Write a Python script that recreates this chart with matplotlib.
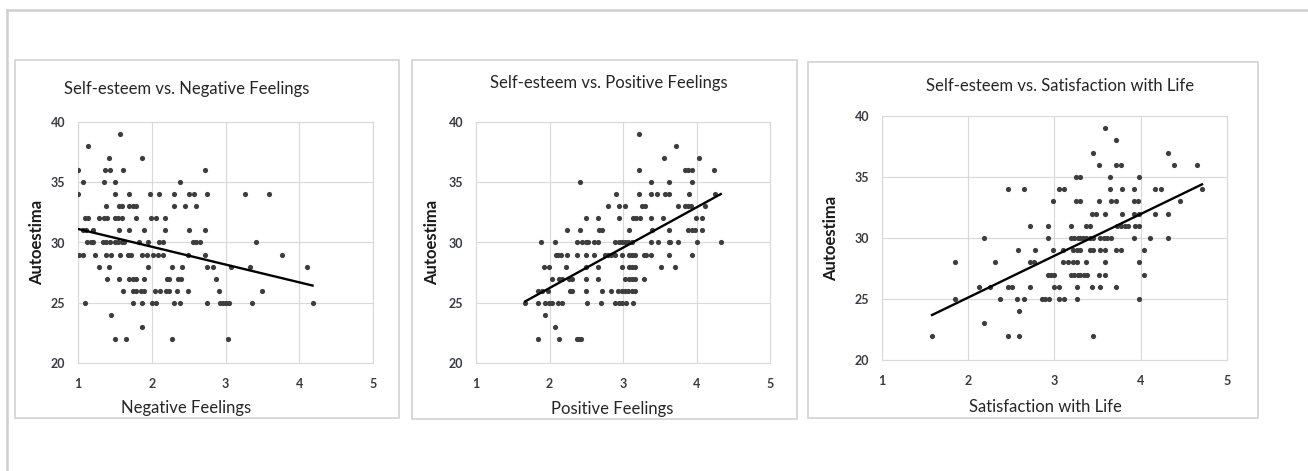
import numpy as np
import matplotlib
matplotlib.use("Agg")
import matplotlib.pyplot as plt
from matplotlib.patches import Rectangle

# ---------------- data ----------------
titles = ["Self-esteem vs. Negative Feelings",
          "Self-esteem vs. Positive Feelings",
          "Self-esteem vs. Satisfaction with Life"]
xlabels = ["Negative Feelings", "Positive Feelings", "Satisfaction with Life"]
ylabel = "Autoestima"
xticks = [1, 2, 3, 4, 5]
yticks = [20, 25, 30, 35, 40]

neg_x = [1.57,
         1.14,
         1.42, 1.87,
         1.00, 1.36, 1.43, 1.61, 2.72,
         1.07, 1.35, 1.50, 2.38,
         1.00, 1.50, 1.69, 1.97, 2.10, 2.30, 2.51, 2.57, 2.75, 3.26, 3.59,
         1.38, 1.56, 1.60, 1.69, 1.74, 1.79, 2.30, 2.45, 2.60,
         1.09, 1.14, 1.29, 1.35, 1.39, 1.50, 1.54, 1.59, 1.79, 1.99, 2.06, 2.18,
         1.07, 1.11, 1.20, 1.56, 1.69, 1.89, 2.18, 2.51, 2.72,
         1.12, 1.17, 1.21, 1.34, 1.38, 1.43, 1.50, 1.54, 1.59, 1.63, 1.83, 1.95, 2.10, 2.15, 2.56, 2.60, 2.65, 3.41,
         1.02, 1.07, 1.23, 1.38, 1.45, 1.57, 1.68, 1.72, 1.87, 1.93, 2.02, 2.08, 2.15, 2.49, 2.72, 3.76,
         1.29, 1.42, 1.95, 2.27, 2.41, 2.75, 2.83, 3.08, 3.33, 4.10,
         1.39, 1.56, 1.69, 1.74, 1.78, 1.90, 2.20, 2.24, 2.36, 2.40, 2.87,
         1.61, 1.75, 1.79, 1.86, 1.89, 2.05, 2.11, 2.19, 2.24, 2.34, 2.49, 2.91, 3.49,
         1.10, 1.75, 1.87, 2.01, 2.06, 2.30, 2.38, 2.75, 2.92, 2.97, 3.01, 3.05, 3.36, 4.18,
         1.45,
         1.87,
         1.50, 1.65, 2.27, 3.03]
neg_y = [39,
         38,
         37, 37,
         36, 36, 36, 36, 36,
         35, 35, 35, 35,
         34, 34, 34, 34, 34, 34, 34, 34, 34, 34, 34,
         33, 33, 33, 33, 33, 33, 33, 33, 33,
         32, 32, 32, 32, 32, 32, 32, 32, 32, 32, 32, 32,
         31, 31, 31, 31, 31, 31, 31, 31, 31,
         30, 30, 30, 30, 30, 30, 30, 30, 30, 30, 30, 30, 30, 30, 30, 30, 30, 30,
         29, 29, 29, 29, 29, 29, 29, 29, 29, 29, 29, 29, 29, 29, 29, 29,
         28, 28, 28, 28, 28, 28, 28, 28, 28, 28,
         27, 27, 27, 27, 27, 27, 27, 27, 27, 27, 27,
         26, 26, 26, 26, 26, 26, 26, 26, 26, 26, 26, 26, 26,
         25, 25, 25, 25, 25, 25, 25, 25, 25, 25, 25, 25, 25, 25,
         24,
         23,
         22, 22, 22, 22]

pos_x = [3.22,
         3.72,
         3.56, 4.03,
         3.22, 3.84, 3.89, 3.94, 4.24,
         2.42, 3.38, 3.62, 3.94,
         2.90, 3.22, 3.38, 3.46, 3.57, 3.62, 3.90, 4.25,
         2.79, 2.94, 3.03, 3.26, 3.30, 3.75, 3.85, 3.89, 3.93, 4.12,
         2.49, 2.66, 2.94, 3.13, 3.18, 3.23, 3.38, 3.55, 3.99, 4.08,
         2.24, 2.42, 2.67, 2.71, 3.08, 3.39, 3.63, 3.89, 3.94, 3.98, 4.07,
         1.89, 2.08, 2.37, 2.44, 2.49, 2.52, 2.61, 2.66, 2.89, 2.94, 2.98, 3.03, 3.07, 3.12, 3.38, 3.47, 3.62, 3.64, 3.75, 4.00, 4.33,
         2.09, 2.12, 2.15, 2.24, 2.37, 2.49, 2.61, 2.75, 2.79, 2.83, 2.89, 2.98, 3.08, 3.12, 3.16, 3.28, 3.31, 3.38, 3.62, 3.94,
         1.93, 1.99, 2.23, 2.49, 2.66, 2.98, 3.08, 3.12, 3.17, 3.52, 3.71,
         2.03, 2.13, 2.17, 2.26, 2.30, 2.49, 2.66, 3.03, 3.08, 3.12, 3.16, 3.28,
         1.84, 1.90, 1.98, 2.28, 2.31, 2.49, 2.71, 2.84, 2.93, 2.98, 3.03, 3.07, 3.12, 3.16,
         1.67, 1.85, 1.94, 1.99, 2.03, 2.12, 2.17, 2.51, 2.70, 2.89, 2.94, 2.98, 3.04, 3.13,
         1.94,
         2.08,
         1.85, 2.13, 2.37, 2.40, 2.43]
pos_y = [39,
         38,
         37, 37,
         36, 36, 36, 36, 36,
         35, 35, 35, 35,
         34, 34, 34, 34, 34, 34, 34, 34,
         33, 33, 33, 33, 33, 33, 33, 33, 33, 33,
         32, 32, 32, 32, 32, 32, 32, 32, 32, 32,
         31, 31, 31, 31, 31, 31, 31, 31, 31, 31, 31,
         30, 30, 30, 30, 30, 30, 30, 30, 30, 30, 30, 30, 30, 30, 30, 30, 30, 30, 30, 30, 30,
         29, 29, 29, 29, 29, 29, 29, 29, 29, 29, 29, 29, 29, 29, 29, 29, 29, 29, 29, 29,
         28, 28, 28, 28, 28, 28, 28, 28, 28, 28, 28,
         27, 27, 27, 27, 27, 27, 27, 27, 27, 27, 27, 27,
         26, 26, 26, 26, 26, 26, 26, 26, 26, 26, 26, 26, 26, 26,
         25, 25, 25, 25, 25, 25, 25, 25, 25, 25, 25, 25, 25, 25,
         24,
         23,
         22, 22, 22, 22, 22]

sat_x = [3.58,
         3.71,
         3.45, 4.32,
         3.52, 3.71, 3.77, 4.38, 4.65,
         3.25, 3.30, 3.64, 3.98,
         2.46, 2.65, 3.05, 3.11, 3.64, 3.78, 3.92, 4.16, 4.23, 4.71,
         2.98, 3.25, 3.30, 3.52, 3.65, 3.71, 3.92, 3.97, 4.45,
         3.44, 3.48, 3.59, 3.78, 3.92, 3.98, 4.16, 4.32,
         2.72, 2.92, 3.19, 3.37, 3.41, 3.72, 3.77, 3.82, 3.85, 3.93, 3.98,
         2.18, 2.92, 3.19, 3.23, 3.27, 3.30, 3.33, 3.37, 3.41, 3.45, 3.53, 3.57, 3.61, 3.65, 3.92, 4.11, 4.32,
         2.58, 2.77, 2.98, 3.10, 3.22, 3.26, 3.30, 3.41, 3.45, 3.53, 3.58, 3.71, 3.77, 4.04,
         1.85, 2.31, 2.72, 2.76, 3.10, 3.16, 3.22, 3.26, 3.37, 3.58, 3.98,
         2.92, 2.96, 2.99, 3.19, 3.23, 3.27, 3.30, 3.34, 3.38, 3.52, 3.58, 4.04,
         2.12, 2.25, 2.46, 2.51, 2.72, 2.99, 3.05, 3.26, 3.44, 3.53, 3.71,
         1.85, 2.37, 2.57, 2.65, 2.85, 2.89, 2.94, 3.05, 3.11, 3.26, 3.98,
         2.59,
         2.18,
         1.58, 2.46, 2.59, 3.45]
sat_y = [39,
         38,
         37, 37,
         36, 36, 36, 36, 36,
         35, 35, 35, 35,
         34, 34, 34, 34, 34, 34, 34, 34, 34, 34,
         33, 33, 33, 33, 33, 33, 33, 33, 33,
         32, 32, 32, 32, 32, 32, 32, 32,
         31, 31, 31, 31, 31, 31, 31, 31, 31, 31, 31,
         30, 30, 30, 30, 30, 30, 30, 30, 30, 30, 30, 30, 30, 30, 30, 30, 30,
         29, 29, 29, 29, 29, 29, 29, 29, 29, 29, 29, 29, 29, 29,
         28, 28, 28, 28, 28, 28, 28, 28, 28, 28, 28,
         27, 27, 27, 27, 27, 27, 27, 27, 27, 27, 27, 27,
         26, 26, 26, 26, 26, 26, 26, 26, 26, 26, 26,
         25, 25, 25, 25, 25, 25, 25, 25, 25, 25, 25,
         24,
         23,
         22, 22, 22, 22]

# ---------------- styling / layout ----------------
W, H = 1308, 471
FONT = ["Lato", "DejaVu Sans"]
plt.rcParams["font.family"] = FONT

fig = plt.figure(figsize=(W / 100, H / 100), dpi=100)
fig.patch.set_facecolor("white")

def frac_rect(l, t, r, b):
    return [l / W, 1 - b / H, (r - l) / W, (b - t) / H]

# outer crop border (top and left)
fig.add_artist(plt.Line2D([7 / W, 1], [1 - 10 / H, 1 - 10 / H], transform=fig.transFigure,
                          color="#cfcfcf", lw=1.8))
fig.add_artist(plt.Line2D([7 / W, 7 / W], [0, 1 - 10 / H], transform=fig.transFigure,
                          color="#cfcfcf", lw=1.8))

boxes = [(15, 60, 399, 418), (412, 60, 797, 419), (808, 62, 1258, 418)]
plots = [(78, 122, 373, 363), (476, 122, 770, 363), (882, 116, 1227, 360)]
title_pos = [(187, 89), (609, 83), (1060, 86)]
xlabel_pos = [(186, 408), (612, 409), (1045, 407)]
ylabel_x = [37, 432, 831]

series = [(neg_x, neg_y), (pos_x, pos_y), (sat_x, sat_y)]
grid_c = "#d9d9d9"
dot_c = "#3d3d3d"
text_c = "#262626"

for i in range(3):
    l, t, r, b = boxes[i]
    fig.add_artist(Rectangle((l / W, 1 - b / H), (r - l) / W, (b - t) / H,
                             transform=fig.transFigure, fill=False,
                             edgecolor="#d6d6d6", lw=1.3))
    ax = fig.add_axes(frac_rect(*plots[i]))
    x = np.array(series[i][0], dtype=float)
    y = np.array(series[i][1], dtype=float)
    ax.scatter(x, y, s=14, color=dot_c, linewidths=0, zorder=3)
    k, c = np.polyfit(x, y, 1)
    xs = np.array([x.min(), x.max()])
    ax.plot(xs, k * xs + c, color="black", lw=1.7, zorder=4)

    ax.set_xlim(xticks[0], xticks[-1])
    ax.set_ylim(yticks[0], yticks[-1])
    ax.set_xticks(xticks)
    ax.set_yticks(yticks)
    ax.grid(True, color=grid_c, lw=0.8)
    ax.set_axisbelow(True)
    for s in ax.spines.values():
        s.set_color(grid_c)
        s.set_linewidth(0.8)
    ax.tick_params(length=0, labelsize=9, labelcolor="#3a3a44")
    ax.tick_params(axis="x", pad=11)
    ax.tick_params(axis="y", pad=9)
    for lab in ax.get_xticklabels() + ax.get_yticklabels():
        lab.set_fontweight("bold")

    tx, ty = title_pos[i]
    fig.text(tx / W, 1 - ty / H, titles[i], ha="center", va="center",
             fontsize=12, color=text_c)
    lx, ly = xlabel_pos[i]
    fig.text(lx / W, 1 - ly / H, xlabels[i], ha="center", va="center",
             fontsize=12, color=text_c)
    pl, pt, pr, pb = plots[i]
    fig.text(ylabel_x[i] / W, 1 - ((pt + pb) / 2) / H, ylabel, ha="center", va="center",
             rotation=90, fontsize=12, fontweight="bold", color="#1a1a1a")

fig.savefig("out.png", dpi=100, facecolor="white")
